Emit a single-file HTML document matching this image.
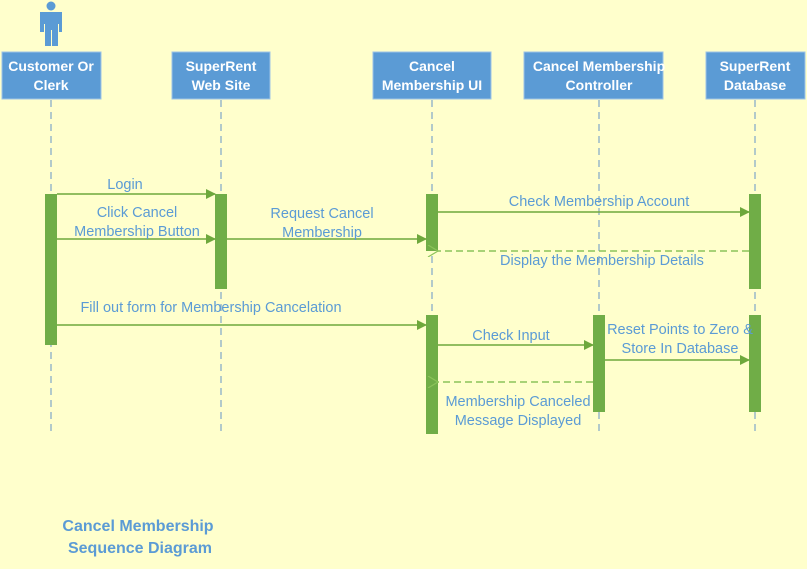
<!DOCTYPE html>
<html><head><style>body{margin:0;background:#FFFFCC}</style></head><body>
<svg width="807" height="569" xmlns="http://www.w3.org/2000/svg" style="display:block;font-family:'Liberation Sans',sans-serif">
<defs>
<marker id="a" markerWidth="10" markerHeight="10" refX="9" refY="5" orient="auto" markerUnits="userSpaceOnUse"><path d="M0,0 L10,5 L0,10z" fill="#6EA83C"/></marker>
<marker id="o" markerWidth="12" markerHeight="12" refX="1" refY="6" orient="auto" markerUnits="userSpaceOnUse"><path d="M11,0 L1,6 L11,12" fill="none" stroke="#8CC35A" stroke-width="1.2"/></marker>
</defs>
<rect width="807" height="569" fill="#FFFFCC"/>
<circle cx="51" cy="6" r="4.5" fill="#5B9BD5"/>
<path d="M40,12 h22 v20 h-3 v-8 h-1 v22 h-6 v-16 h-1 v16 h-6 v-22 h-1 v8 h-4z" fill="#5B9BD5"/>
<g stroke="#7FA7C9" stroke-dasharray="7,5" stroke-width="1.2">
<line x1="51" y1="100" x2="51" y2="432"/><line x1="221" y1="100" x2="221" y2="432"/><line x1="432" y1="100" x2="432" y2="432"/><line x1="599" y1="100" x2="599" y2="432"/><line x1="755" y1="100" x2="755" y2="432"/>
</g>
<g fill="#5B9BD5" stroke="#9DC3E6" stroke-width="1">
<rect x="2" y="52" width="99" height="47"/><rect x="172" y="52" width="98" height="47"/><rect x="373" y="52" width="118" height="47"/><rect x="524" y="52" width="139" height="47"/><rect x="706" y="52" width="99" height="47"/>
</g>
<g fill="#fff" font-weight="bold" font-size="14" text-anchor="middle">
<text x="51" y="71">Customer Or</text><text x="51" y="90">Clerk</text>
<text x="221" y="71">SuperRent</text><text x="221" y="90">Web Site</text>
<text x="432" y="71">Cancel</text><text x="432" y="90">Membership UI</text>
<text x="599" y="71">Cancel Membership</text><text x="599" y="90">Controller</text>
<text x="755" y="71">SuperRent</text><text x="755" y="90">Database</text>
</g>
<g fill="#70AD47">
<rect x="45" y="194" width="12" height="151"/><rect x="215" y="194" width="12" height="95"/>
<rect x="426" y="194" width="12" height="57"/><rect x="426" y="315" width="12" height="119"/>
<rect x="593" y="315" width="12" height="97"/>
<rect x="749" y="194" width="12" height="95"/><rect x="749" y="315" width="12" height="97"/>
</g>
<g stroke="#6EA83C" stroke-width="1.4" fill="none">
<line x1="57" y1="194" x2="215" y2="194" marker-end="url(#a)"/>
<line x1="57" y1="239" x2="215" y2="239" marker-end="url(#a)"/>
<line x1="227" y1="239" x2="426" y2="239" marker-end="url(#a)"/>
<line x1="438" y1="212" x2="749" y2="212" marker-end="url(#a)"/>
<line x1="57" y1="325" x2="426" y2="325" marker-end="url(#a)"/>
<line x1="438" y1="345" x2="593" y2="345" marker-end="url(#a)"/>
<line x1="605" y1="360" x2="749" y2="360" marker-end="url(#a)"/>
</g>
<g stroke="#8CC35A" stroke-width="1.6" fill="none" stroke-dasharray="7,4">
<line x1="749" y1="251" x2="438" y2="251" marker-end="url(#o)"/>
<line x1="593" y1="382" x2="438" y2="382" marker-end="url(#o)"/>
</g>
<g fill="#5B9BD5" font-size="14.5" text-anchor="middle">
<text x="125" y="189">Login</text>
<text x="137" y="217">Click Cancel</text><text x="137" y="236">Membership Button</text>
<text x="322" y="218">Request Cancel</text><text x="322" y="237">Membership</text>
<text x="599" y="206">Check Membership Account</text>
<text x="602" y="265">Display the Membership Details</text>
<text x="211" y="312">Fill out form for Membership Cancelation</text>
<text x="511" y="340">Check Input</text>
<text x="680" y="334">Reset Points to Zero &amp;</text><text x="680" y="353">Store In Database</text>
<text x="518" y="406">Membership Canceled</text><text x="518" y="425">Message Displayed</text>
</g>
<g fill="#5B9BD5" font-size="16" font-weight="bold" text-anchor="middle">
<text x="138" y="531">Cancel Membership</text><text x="140" y="553">Sequence Diagram</text>
</g>
</svg>
</body></html>
